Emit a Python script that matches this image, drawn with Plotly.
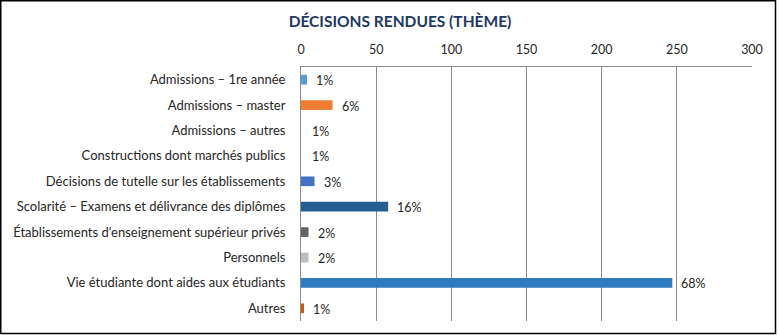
import plotly.graph_objects as go

categories = [
    "Admissions – 1re année",
    "Admissions – master",
    "Admissions – autres",
    "Constructions dont marchés publics",
    "Décisions de tutelle sur les établissements",
    "Scolarité – Examens et délivrance des diplômes",
    "Établissements d'enseignement supérieur privés",
    "Personnels",
    "Vie étudiante dont aides aux étudiants",
    "Autres",
]
values = [4, 21, 1, 1, 9, 58, 5, 5, 247, 2]
pct_labels = ["1%", "6%", "1%", "1%", "3%", "16%", "2%", "2%", "68%", "1%"]
bar_colors = ["#5B9BD5", "#ED7D31", "#FFFFFF", "#FFFFFF", "#4472C4",
              "#255E91", "#636363", "#BDBDBD", "#2E7BC0", "#C55A11"]
x_ticks = [0, 50, 100, 150, 200, 250, 300]

W, H = 779, 335
ml, mr, mt, mb = 301, 27, 67, 14
pw, ph = W - ml - mr, H - mt - mb

def px_x(p):
    return (p - ml) / pw

def px_y(p):
    return 1 - (p - mt) / ph

FONT = "Lato"
TXT = "#262626"

fig = go.Figure(go.Bar(
    x=values, y=categories, orientation="h",
    marker=dict(color=bar_colors, line=dict(width=0)),
    width=0.38,
))

annotations = [
    dict(x=v, y=c, xref="x", yref="y", text=t, showarrow=False,
         xanchor="left", yanchor="middle", xshift=6, yshift=-1,
         bgcolor="white", borderpad=2,
         font=dict(family=FONT, size=12.5, color=TXT))
    for v, c, t in zip(values, categories, pct_labels)
]

fig.update_layout(
    width=W, height=H,
    margin=dict(l=ml, r=mr, t=mt, b=mb),
    paper_bgcolor="white", plot_bgcolor="white",
    showlegend=False,
    font=dict(family=FONT, size=13, color=TXT),
    title=dict(text="<b>DÉCISIONS RENDUES (THÈME)</b>",
               font=dict(family=FONT, size=15.5, color="#203864"),
               x=px_x(400), xref="paper", xanchor="center",
               y=1 - 21.5 / H, yref="container", yanchor="middle"),
    xaxis=dict(side="top", range=[0, 300], tickvals=x_ticks,
               showgrid=True, gridcolor="#8C8C8C", gridwidth=1,
               showline=True, linecolor="#8C8C8C", linewidth=1,
               zeroline=False, ticks="", ticklabelstandoff=7,
               tickfont=dict(family=FONT, size=12.5, color=TXT),
               fixedrange=True),
    yaxis=dict(autorange="reversed", showline=True, linecolor="#8C8C8C",
               linewidth=1, ticks="", ticklabelstandoff=12,
               tickfont=dict(family=FONT, size=13, color=TXT),
               fixedrange=True),
    annotations=annotations,
    shapes=[dict(type="rect", xref="paper", yref="paper",
                 x0=px_x(0.75), x1=px_x(775.5), y0=px_y(333.5), y1=px_y(0.75),
                 line=dict(color="black", width=1.5), layer="above")],
)

fig.write_html("out.html")
